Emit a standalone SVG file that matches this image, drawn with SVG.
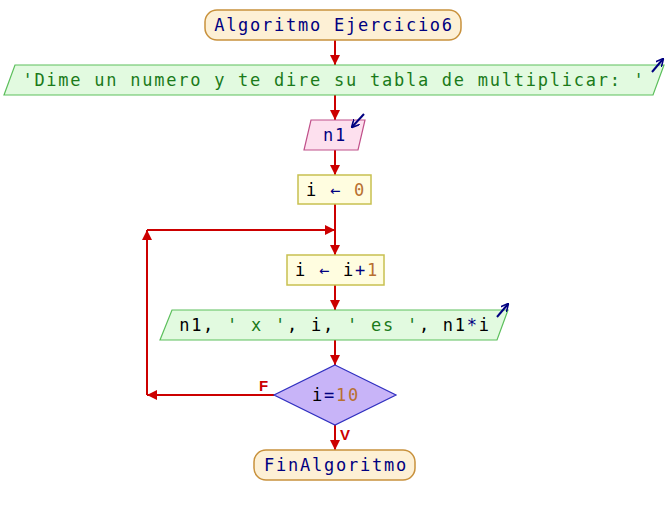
<svg xmlns="http://www.w3.org/2000/svg" width="668" height="515" viewBox="0 0 668 515">
  <defs>
    <marker id="ah" viewBox="0 0 10 10" refX="10" refY="5" markerWidth="10" markerHeight="11" markerUnits="userSpaceOnUse" orient="auto">
      <path d="M0,0 L10,5 L0,10 Z" fill="#cc0000"/>
    </marker>
    <marker id="io" viewBox="0 0 10 10" refX="9" refY="5" markerWidth="8" markerHeight="8" markerUnits="userSpaceOnUse" orient="auto">
      <path d="M0,0 L10,5 L0,10" fill="none" stroke="#000080" stroke-width="2"/>
    </marker>
  </defs>
  <style>
    text { font-family: "DejaVu Sans Mono", "Liberation Mono", monospace; font-size: 17px; letter-spacing: 1.75px; fill: #000000; }
    .term { fill: #fdf0d5; stroke: #c8913c; stroke-width: 1.5; }
    .out { fill: #e2fae0; stroke: #5cbf5c; stroke-width: 1.2; }
    .inp { fill: #fde0ee; stroke: #c0508a; stroke-width: 1.2; }
    .asg { fill: #fffde0; stroke: #c8c050; stroke-width: 1.5; }
    .dec { fill: #c8b4f8; stroke: #3030c0; stroke-width: 1.2; }
    .kw { fill: #000080; }
    .str { fill: #1a7a1a; }
    .op { fill: #000080; }
    .num { fill: #b87030; }
    .lbl { font-family: "Liberation Sans", Arial, sans-serif; font-weight: bold; font-size: 15px; letter-spacing: 0; fill: #cc0000; }
    .edge { stroke: #cc0000; stroke-width: 2; fill: none; marker-end: url(#ah); }
    .ioarrow { stroke: #000080; stroke-width: 2; fill: none; marker-end: url(#io); }
  </style>

  <g id="connectors">
    <line class="edge" x1="335" y1="40" x2="335" y2="65"/>
    <line class="edge" x1="335" y1="95" x2="335" y2="120"/>
    <line class="edge" x1="335" y1="150" x2="335" y2="175"/>
    <line class="edge" x1="335" y1="204" x2="335" y2="255"/>
    <line class="edge" x1="335" y1="285" x2="335" y2="310"/>
    <line class="edge" x1="335" y1="340" x2="335" y2="365"/>
    <line class="edge" x1="335" y1="425" x2="335" y2="450"/>
    <line class="edge" x1="274" y1="395" x2="147" y2="395"/>
    <line class="edge" x1="147" y1="395" x2="147" y2="230"/>
    <line class="edge" x1="147" y1="230" x2="335" y2="230"/>
    <text class="lbl" x="259" y="391">F</text>
    <text class="lbl" x="340" y="440">V</text>
  </g>

  <g id="start">
    <rect class="term" x="205" y="10" width="256" height="30" rx="12" ry="12"/>
    <text class="kw" x="334" y="31" text-anchor="middle">Algoritmo Ejercicio6</text>
  </g>

  <g id="write-prompt">
    <polygon class="out" points="15,65 664,65 653,95 4,95"/>
    <text class="str" x="334" y="86" text-anchor="middle">'Dime un numero y te dire su tabla de multiplicar: '</text>
    <line class="ioarrow" x1="652" y1="72" x2="663" y2="59"/>
  </g>

  <g id="read-n1">
    <polygon class="inp" points="311,120 365,120 358,150 304,150"/>
    <text class="kw" x="335" y="141" text-anchor="middle">n1</text>
    <line class="ioarrow" x1="364" y1="114" x2="352" y2="127"/>
  </g>

  <g id="init-i">
    <rect class="asg" x="298" y="175" width="73" height="29"/>
    <text x="336" y="196" text-anchor="middle">i <tspan class="op">←</tspan> <tspan class="num">0</tspan></text>
  </g>

  <g id="inc-i">
    <rect class="asg" x="287" y="255" width="97" height="30"/>
    <text x="337" y="276" text-anchor="middle">i <tspan class="op">←</tspan> i<tspan class="op">+</tspan><tspan class="num">1</tspan></text>
  </g>

  <g id="write-row">
    <polygon class="out" points="172,310 508,310 497,340 160,340"/>
    <text x="335" y="331" text-anchor="middle">n1, <tspan class="str">' x '</tspan>, i, <tspan class="str">' es '</tspan>, n1<tspan class="op">*</tspan>i</text>
    <line class="ioarrow" x1="497" y1="317" x2="508" y2="304"/>
  </g>

  <g id="check-i">
    <polygon class="dec" points="335,365 396,395 335,425 274,395"/>
    <text x="336" y="401" text-anchor="middle">i<tspan class="op">=</tspan><tspan class="num">10</tspan></text>
  </g>

  <g id="end">
    <rect class="term" x="254" y="450" width="161" height="30" rx="12" ry="12"/>
    <text class="kw" x="336" y="471" text-anchor="middle">FinAlgoritmo</text>
  </g>
</svg>
